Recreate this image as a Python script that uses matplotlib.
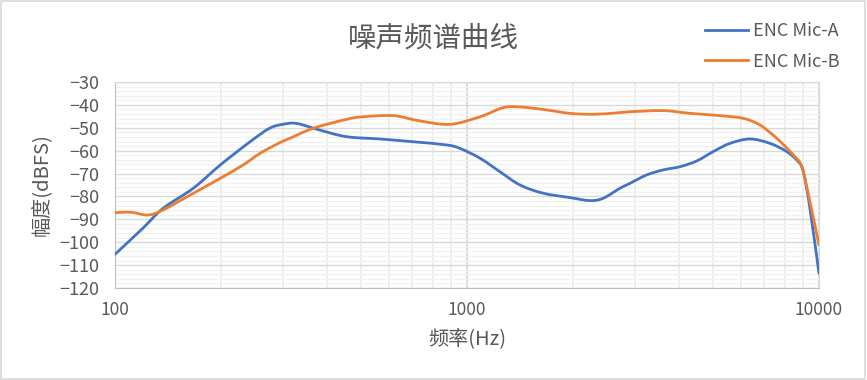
import numpy as np
import matplotlib.pyplot as plt
from matplotlib.ticker import FixedLocator, NullFormatter
from matplotlib.patches import Rectangle, PathPatch
from matplotlib.path import Path
from matplotlib.lines import Line2D

plt.rcParams['font.family'] = ['Noto Sans CJK SC', 'DejaVu Sans']

# values
freq_a = [100, 120, 137, 167, 199, 242, 275, 300, 328, 382, 455, 566, 703, 875, 955,
          1089, 1241, 1415, 1648, 1962, 2234, 2437, 2722, 2902, 3240, 3614, 4030, 4494,
          5009, 5590, 6368, 7256, 8096, 8735, 9028, 9426, 10000]
mic_a = [-105.3, -93.9, -85.2, -76.4, -66.3, -56.1, -50.2, -48.5, -48.1, -51.0, -53.9,
         -54.9, -56.1, -57.5, -59.0, -63.3, -69.2, -75.0, -78.6, -80.5, -81.8, -80.8,
         -76.4, -74.3, -70.6, -68.4, -67.0, -64.5, -60.4, -56.8, -54.9, -56.8, -60.4,
         -64.8, -69.2, -85.2, -113.6]

freq_b = [100, 111, 124, 137, 167, 199, 231, 258, 294, 314, 366, 455, 507, 618, 735, 895,
          1089, 1268, 1415, 1683, 1962, 2286, 2663, 2902, 3614, 4305, 5236, 6100, 6800,
          7586, 8455, 8930, 9426, 10000]
mic_b = [-87.1, -86.9, -88.1, -85.9, -78.6, -72.1, -66.3, -61.2, -56.5, -54.6, -50.2,
         -46.3, -45.2, -44.7, -47.0, -48.5, -45.2, -41.2, -40.9, -42.2, -43.7, -44.1,
         -43.5, -43.0, -42.5, -43.7, -44.7, -45.9, -48.8, -54.6, -61.9, -67.0, -82.3,
         -101.2]

labels = ['ENC Mic-A', 'ENC Mic-B']
colors = ['#4472C4', '#ED7D31']
txt_c = '#595959'


def smooth_path(xs, ys):
    # excel-style smoothed line: bezier segments through the points (done in log-x)
    lx = np.log10(xs)
    ys = np.asarray(ys, float)
    n = len(lx)
    verts = [(xs[0], ys[0])]
    codes = [Path.MOVETO]
    for i in range(n - 1):
        i0, i3 = max(i - 1, 0), min(i + 2, n - 1)
        c1 = (lx[i] + (lx[i + 1] - lx[i0]) / 6, ys[i] + (ys[i + 1] - ys[i0]) / 6)
        c2 = (lx[i + 1] - (lx[i3] - lx[i]) / 6, ys[i + 1] - (ys[i3] - ys[i]) / 6)
        verts += [(10 ** c1[0], c1[1]), (10 ** c2[0], c2[1]), (xs[i + 1], ys[i + 1])]
        codes += [Path.CURVE4] * 3
    return Path(verts, codes)


fig = plt.figure(figsize=(8.67, 3.8), dpi=100)
ax = fig.add_axes([0.1326, 0.2421, 0.812, 0.5421])

for xs, ys, c in [(freq_a, mic_a, colors[0]), (freq_b, mic_b, colors[1])]:
    ax.add_patch(PathPatch(smooth_path(xs, ys), fill=False, edgecolor=c, lw=2.0,
                           capstyle='round', joinstyle='round', zorder=3))

ax.set_xscale('log')
ax.set_xlim(100, 10000)
ax.set_ylim(-120, -30)

ax.set_yticks(np.arange(-120, -29, 10))
ax.yaxis.set_minor_locator(FixedLocator(np.arange(-120, -30, 2)))
ax.set_xticks([100, 1000, 10000])
ax.set_xticklabels(['100', '1000', '10000'])
minor_x = [m * d for d in (100, 1000) for m in range(2, 10)]
ax.xaxis.set_minor_locator(FixedLocator(minor_x))
ax.xaxis.set_minor_formatter(NullFormatter())

ax.grid(which='minor', axis='y', color='#F2F2F2', lw=1.0)
ax.grid(which='major', axis='y', color='#D9D9D9', lw=1.0)
ax.grid(which='minor', axis='x', color='#EDEDED', lw=1.3)
ax.grid(which='major', axis='x', color='#D9D9D9', lw=1.3)
ax.set_axisbelow(True)

ax.tick_params(which='both', length=0, labelsize=12.5, colors=txt_c)
ax.tick_params(axis='x', pad=9)
ax.tick_params(axis='y', labelsize=13, pad=11)

for s in ax.spines.values():
    s.set_color('#D9D9D9')
ax.spines['left'].set_color('#BFBFBF')
ax.spines['bottom'].set_color('#BFBFBF')

ax.set_xlabel('频率(Hz)', fontsize=14.5, color=txt_c, labelpad=7)
ax.set_ylabel('幅度(dBFS)', fontsize=14.5, color=txt_c, labelpad=6)

fig.text(0.5, 0.898, '噪声频谱曲线', ha='center', va='center', fontsize=20.5, color=txt_c)

handles = [Line2D([], [], color=c, lw=2.0) for c in colors]
leg = fig.legend(handles, labels, loc='upper right', bbox_to_anchor=(0.987, 0.985),
                 frameon=False, fontsize=13, handlelength=2.4, labelspacing=0.7,
                 handletextpad=0.25)
for t in leg.get_texts():
    t.set_color(txt_c)

fig.patches.append(Rectangle((0.001, 0.002), 0.997, 0.995, transform=fig.transFigure,
                             fill=False, edgecolor='#D9D9D9', lw=1.2))

fig.savefig('out.png', dpi=100)
